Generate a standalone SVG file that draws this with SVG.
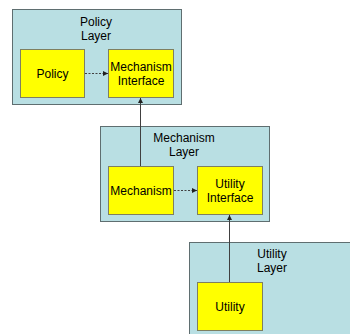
<svg xmlns="http://www.w3.org/2000/svg" width="350" height="334" viewBox="0 0 350 334">
  <style>
    .layer { fill: #b9dfe3; stroke: #5f6e70; stroke-width: 1; }
    .box { fill: #ffff00; stroke: #7f7f60; stroke-width: 1; }
    text { font-family: "Liberation Sans", Arial, sans-serif; font-size: 12px; fill: #000; text-anchor: middle; }
    .link { stroke: #404040; stroke-width: 1; fill: none; }
    .dash { stroke: #404040; stroke-width: 1; stroke-dasharray: 2 1.5; fill: none; }
  </style>
  <defs>
    <marker id="head" viewBox="0 0 6 6" refX="6" refY="3" markerWidth="5" markerHeight="5" orient="auto" markerUnits="userSpaceOnUse">
      <path d="M0,0 L6,3 L0,6 Z" fill="#202020"/>
    </marker>
  </defs>

  <g id="policy-layer">
    <rect class="layer" x="12.5" y="9.5" width="169" height="95"/>
    <text x="96" y="26">Policy</text>
    <text x="96" y="40">Layer</text>
  </g>
  <g id="mechanism-layer">
    <rect class="layer" x="100.5" y="126.5" width="169" height="95"/>
    <text x="184" y="142">Mechanism</text>
    <text x="184" y="156">Layer</text>
  </g>
  <g id="utility-layer">
    <rect class="layer" x="189.5" y="242.5" width="170" height="100"/>
    <text x="272" y="258">Utility</text>
    <text x="272" y="272">Layer</text>
  </g>

  <g id="policy">
    <rect class="box" x="20.5" y="49.5" width="64" height="48"/>
    <text x="52.5" y="78">Policy</text>
  </g>
  <g id="mechanism-interface">
    <rect class="box" x="108.5" y="49.5" width="65" height="48"/>
    <text x="141" y="71">Mechanism</text>
    <text x="141" y="85">Interface</text>
  </g>
  <g id="mechanism">
    <rect class="box" x="108.5" y="166.5" width="65" height="48"/>
    <text x="141" y="195">Mechanism</text>
  </g>
  <g id="utility-interface">
    <rect class="box" x="197.5" y="166.5" width="65" height="48"/>
    <text x="230" y="188">Utility</text>
    <text x="230" y="202">Interface</text>
  </g>
  <g id="utility">
    <rect class="box" x="197.5" y="282.5" width="65" height="48"/>
    <text x="230" y="311">Utility</text>
  </g>

  <g id="connectors">
    <line class="dash" x1="85" y1="73.5" x2="108" y2="73.5" marker-end="url(#head)"/>
    <line class="link" x1="140.5" y1="166" x2="140.5" y2="98" marker-end="url(#head)"/>
    <line class="dash" x1="174" y1="190.5" x2="197" y2="190.5" marker-end="url(#head)"/>
    <line class="link" x1="229.5" y1="282" x2="229.5" y2="215" marker-end="url(#head)"/>
  </g>
</svg>
